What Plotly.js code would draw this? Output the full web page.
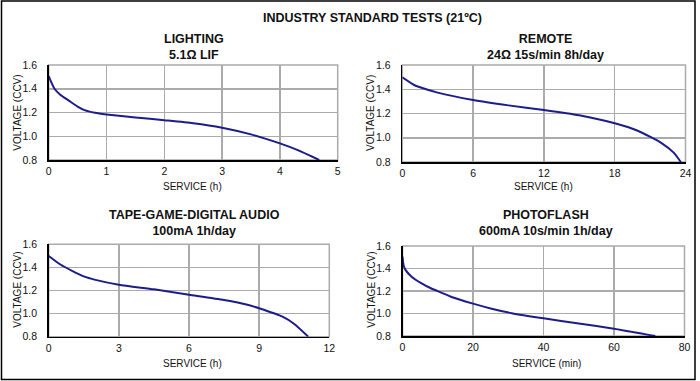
<!DOCTYPE html>
<html>
<head>
<meta charset="utf-8">
<script src="https://cdn.plot.ly/plotly-3.0.1.min.js"></script>
<style>html,body{margin:0;padding:0;background:#fff;}#chart{width:700px;height:381px;}</style>
</head>
<body>
<div id="chart"></div>
<script>
// ---- data ----
var mainTitle = "INDUSTRY STANDARD TESTS (21ºC)";
var panelTitles = ["LIGHTING<br>5.1Ω LIF", "REMOTE<br>24Ω 15s/min 8h/day", "TAPE-GAME-DIGITAL AUDIO<br>100mA 1h/day", "PHOTOFLASH<br>600mA 10s/min 1h/day"];
var xTitles = ["SERVICE (h)", "SERVICE (h)", "SERVICE (h)", "SERVICE (min)"];
var yTitle = "VOLTAGE (CCV)";

var lightingX = [0, 0.05, 0.1, 0.2, 0.35, 0.5, 0.62, 0.8, 1.0, 1.5, 2.0, 2.5, 3.0, 3.5, 4.0, 4.3, 4.68];
var lightingV = [1.507, 1.45, 1.40, 1.35, 1.30, 1.25, 1.22, 1.198, 1.184, 1.158, 1.135, 1.11, 1.072, 1.016, 0.94, 0.885, 0.80];

var remoteX = [0, 1, 1.5, 3, 6, 9, 12, 15, 18, 20, 22, 23, 23.6];
var remoteV = [1.498, 1.435, 1.416, 1.372, 1.311, 1.267, 1.229, 1.185, 1.119, 1.056, 0.954, 0.877, 0.80];

var tapeX = [0, 0.5, 1, 1.5, 2, 3, 4.5, 6, 7.5, 8.5, 9, 10, 10.5, 11.1];
var tapeV = [1.499, 1.425, 1.37, 1.322, 1.292, 1.25, 1.21, 1.164, 1.118, 1.077, 1.046, 0.973, 0.91, 0.80];

var photoX = [0, 0.3, 0.8, 2.5, 5.3, 8.2, 11, 13.9, 20, 25.3, 31, 40, 50, 60, 71.7];
var photoV = [1.505, 1.43, 1.39, 1.33, 1.27, 1.222, 1.186, 1.147, 1.088, 1.043, 1.003, 0.957, 0.912, 0.865, 0.80];

var xRanges = [[0, 5], [0, 24], [0, 12], [0, 80]];
var xDticks = [1, 6, 3, 20];

// ---- layout geometry (pixels) ----
var W = 700, H = 381;
var boxes = [
  {l: 48.7, r: 337.7, t: 65, b: 160},
  {l: 402.3, r: 685.5, t: 65, b: 162},
  {l: 48.7, r: 329.3, t: 244.3, b: 336.7},
  {l: 402.5, r: 684.5, t: 246, b: 336}
];
var titlePos = [
  {x: 193.5, y: 47}, {x: 545, y: 47}, {x: 194, y: 223.5}, {x: 545.5, y: 223.5}
];
var xTitlePos = [
  {x: 193, y: 186.5}, {x: 543, y: 186.5}, {x: 193, y: 363.5}, {x: 546, y: 363.5}
];
var yTitlePos = [
  {x: 16.7, y: 113}, {x: 370, y: 113}, {x: 16.7, y: 290}, {x: 370.7, y: 290}
];

function px(x) { return x / W; }
function py(y) { return 1 - y / H; }

var font = "Liberation Sans, Arial, sans-serif";
var lineColor = "#1c1c8c";
var gridColor = "#ababab";

var xs = [lightingX, remoteX, tapeX, photoX];
var vs = [lightingV, remoteV, tapeV, photoV];

var data = [];
var layout = {
  width: W, height: H,
  margin: {l: 0, r: 0, t: 0, b: 0},
  paper_bgcolor: "#fff",
  plot_bgcolor: "#fff",
  showlegend: false,
  font: {family: font, size: 10, color: "#111"},
  annotations: [],
  shapes: []
};

for (var i = 0; i < 4; i++) {
  var sfx = i === 0 ? "" : String(i + 1);
  data.push({
    type: "scatter", mode: "lines",
    x: xs[i], y: vs[i],
    xaxis: "x" + sfx, yaxis: "y" + sfx,
    line: {color: lineColor, width: 2, shape: "spline", smoothing: 0.6},
    hoverinfo: "skip"
  });
  var b = boxes[i];
  layout["xaxis" + sfx] = {
    domain: [px(b.l), px(b.r)],
    anchor: "y" + sfx,
    range: xRanges[i],
    tick0: 0, dtick: xDticks[i],
    showgrid: true, gridcolor: gridColor, gridwidth: 1.5,
    zeroline: false,
    showline: true, linecolor: "#000", linewidth: 1.5,
    ticks: "", ticklabelstandoff: 1,
    tickfont: {family: font, size: 10.5, color: "#111"},
    fixedrange: true
  };
  layout["yaxis" + sfx] = {
    domain: [py(b.b), py(b.t)],
    anchor: "x" + sfx,
    range: [0.8, 1.6],
    tick0: 0.8, dtick: 0.2, tickformat: ".1f",
    showgrid: true, gridcolor: gridColor, gridwidth: 1.5,
    zeroline: false,
    showline: true, linecolor: "#000", linewidth: 1.5,
    ticks: "", ticklabelstandoff: 8,
    tickfont: {family: font, size: 10.5, color: "#111"},
    fixedrange: true
  };
  // gray frame on top/right of each plot
  layout.shapes.push({
    type: "rect", xref: "paper", yref: "paper", layer: "below",
    x0: px(b.l), x1: px(b.r), y0: py(b.b), y1: py(b.t),
    line: {color: gridColor, width: 1.5}, fillcolor: "rgba(0,0,0,0)"
  });
  layout.annotations.push({
    xref: "paper", yref: "paper", x: px(titlePos[i].x), y: py(titlePos[i].y),
    xanchor: "center", yanchor: "middle", showarrow: false,
    text: "<b>" + panelTitles[i].replace("<br>", "</b><br><b>") + "</b>",
    font: {family: font, size: 12.5, color: "#111"}
  });
  layout.annotations.push({
    xref: "paper", yref: "paper", x: px(xTitlePos[i].x), y: py(xTitlePos[i].y),
    xanchor: "center", yanchor: "middle", showarrow: false,
    text: xTitles[i],
    font: {family: font, size: 10, color: "#111"}
  });
  layout.annotations.push({
    xref: "paper", yref: "paper", x: px(yTitlePos[i].x), y: py(yTitlePos[i].y),
    xanchor: "center", yanchor: "middle", showarrow: false, textangle: -90,
    text: yTitle,
    font: {family: font, size: 10, color: "#111"}
  });
}

layout.annotations.push({
  xref: "paper", yref: "paper", x: px(372), y: py(18),
  xanchor: "center", yanchor: "middle", showarrow: false,
  text: "<b>" + mainTitle + "</b>",
  font: {family: font, size: 12.5, color: "#111"}
});

// outer frame
layout.shapes.push({
  type: "rect", xref: "paper", yref: "paper", layer: "above",
  x0: px(1.5), x1: px(695), y0: py(379.5), y1: py(1),
  line: {color: "#000", width: 1.5}, fillcolor: "rgba(0,0,0,0)"
});

Plotly.newPlot("chart", data, layout, {staticPlot: true, displayModeBar: false});
</script>
</body>
</html>
